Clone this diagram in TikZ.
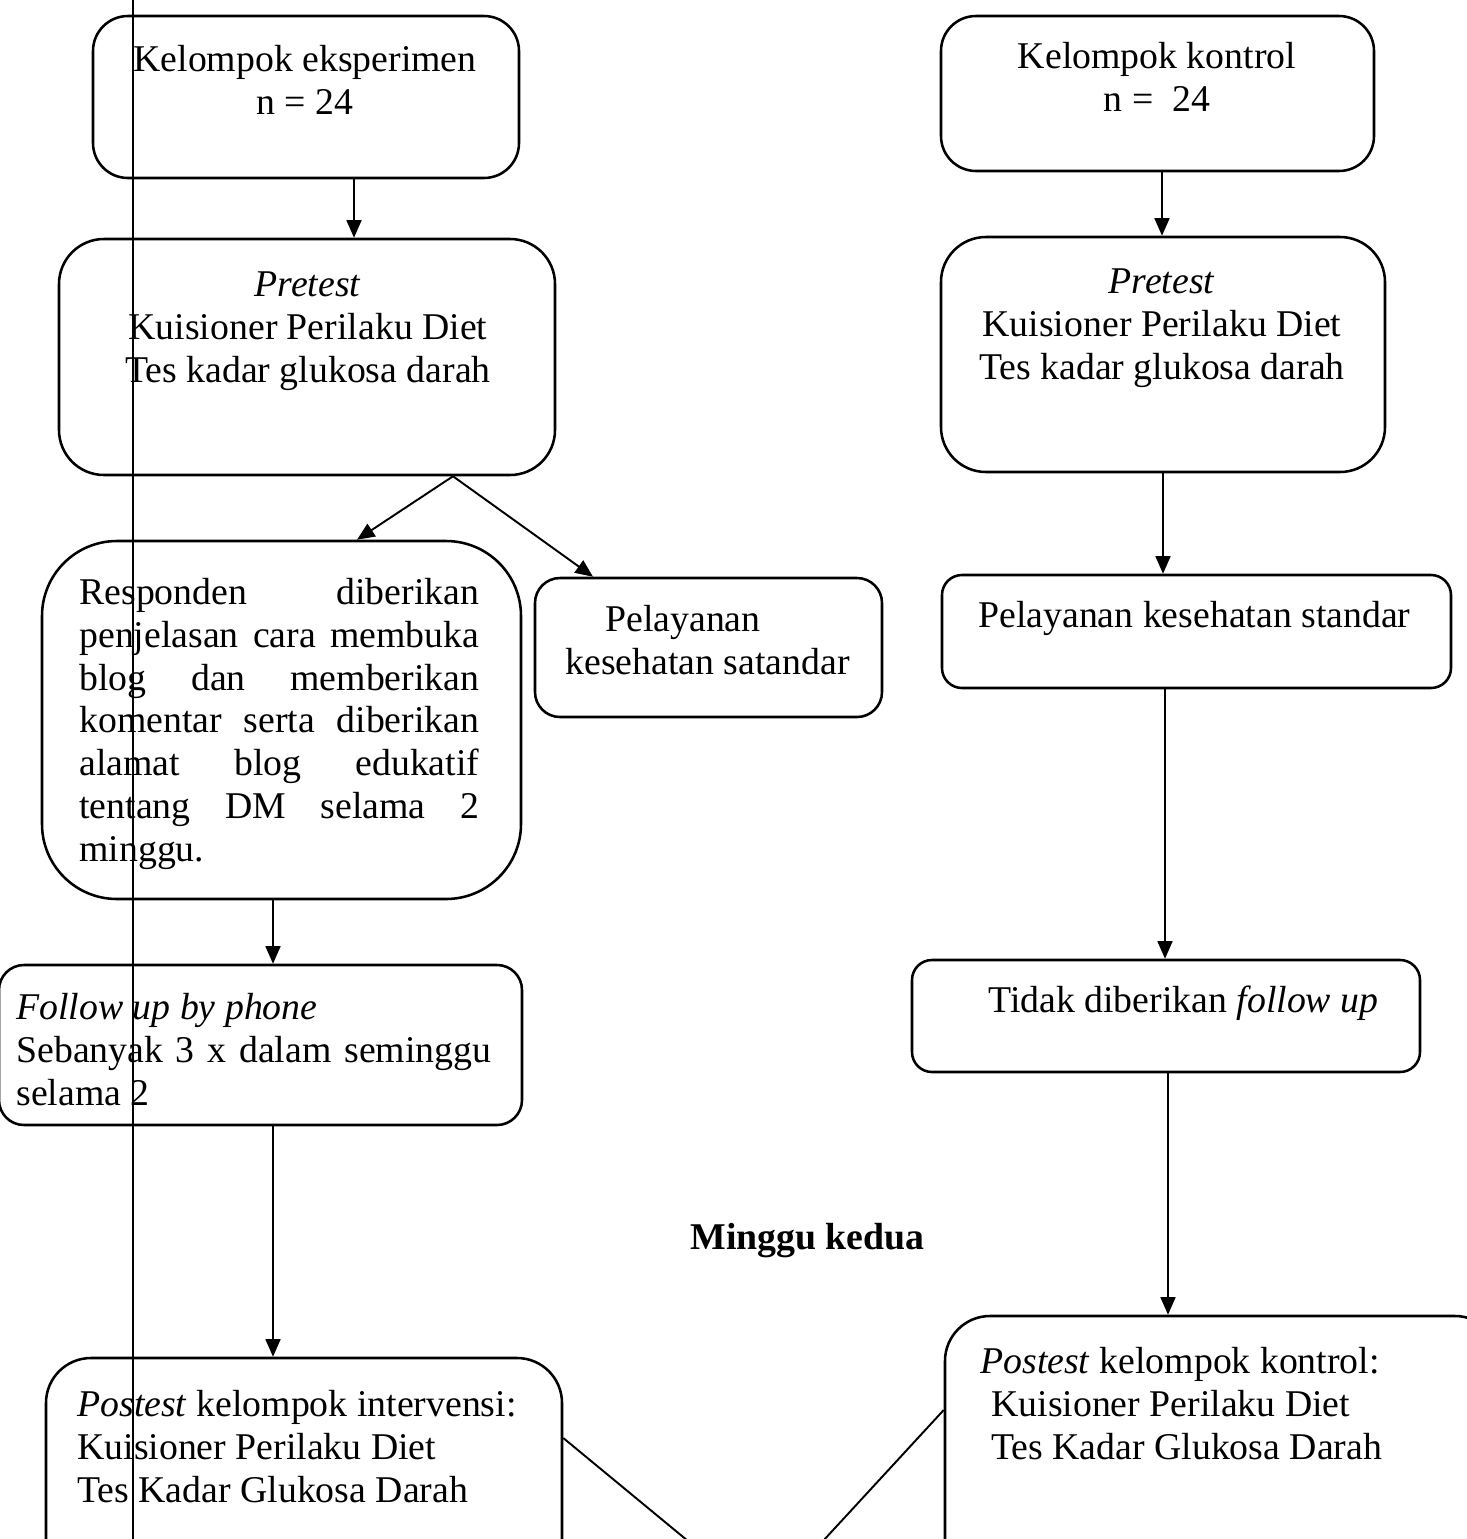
\documentclass[tikz,border=0pt]{standalone}
\usepackage{fontspec}
\setmainfont{Liberation Serif}
\usetikzlibrary{arrows.meta,fit,calc}
\newcommand\dfont{\fontsize{21.5}{24.4}\selectfont}
\newcommand\jline[2]{\makebox[#1][s]{#2}}
\begin{document}
\begin{tikzpicture}[x=0.02cm,y=-0.02cm,
  box/.style={draw, line width=1.45pt, inner sep=0pt},
  txt/.style={inner sep=0pt, font=\dfont, align=center, anchor=north},
  ltxt/.style={inner sep=0pt, font=\dfont, align=left, anchor=north west},
  arr/.style={-{Triangle[length=10pt,width=8.5pt]}, line width=1.1pt},
  link/.style={line width=1.1pt}]
\useasboundingbox (0,0) rectangle (1467,1539);
\clip (0,0) rectangle (1467,1539);

% thin vertical line
\draw[line width=0.6pt] (133,0) -- (133,1539);

% boxes
\node[box, rounded corners=0.7cm, fit={(93,16)(519,178)}] (b1) {};
\node[box, rounded corners=0.7cm, fit={(941,16)(1374,171)}] (b2) {};
\node[box, rounded corners=0.9cm, fit={(59,239)(555,475)}] (b3) {};
\node[box, rounded corners=0.9cm, fit={(941,237)(1385,472)}] (b4) {};
\node[box, rounded corners=1.5cm, fit={(42,541)(521,899)}] (b5) {};
\node[box, rounded corners=0.5cm, fit={(535,578)(882,717)}] (b6) {};
\node[box, rounded corners=0.4cm, fit={(942,575)(1451,688)}] (b7) {};
\node[box, rounded corners=0.5cm, fit={(-1,965)(522,1125)}] (b8) {};
\node[box, rounded corners=0.4cm, fit={(912,960)(1420,1072)}] (b9) {};
\node[box, rounded corners=0.9cm, fit={(46,1358)(562,1640)}] (b10) {};
\node[box, rounded corners=0.9cm, fit={(945,1316)(1500,1640)}] (b11) {};

% texts
\node[txt] (t1) at (305,41) {\strut Kelompok eksperimen\\n = 24};
\node[txt] (t2) at (1157,38) {\strut Kelompok kontrol\\n = \ 24};
\node[txt] (t3) at (308,266) {\strut\textit{Pretest}\\Kuisioner Perilaku Diet\\Tes kadar glukosa darah};
\node[txt] (t4) at (1162,263) {\strut\textit{Pretest}\\Kuisioner Perilaku Diet\\Tes kadar glukosa darah};
\node[ltxt] (t5) at (79,574) {\strut\jline{8cm}{Responden diberikan}\\
  \jline{8cm}{penjelasan cara membuka}\\
  \jline{8cm}{blog dan memberikan}\\
  \jline{8cm}{komentar serta diberikan}\\
  \jline{8cm}{alamat blog edukatif}\\
  \jline{8cm}{tentang DM selama 2}\\
  minggu.};
\node[ltxt] (t6) at (565,601) {\strut\hspace*{0.8cm}Pelayanan\\kesehatan satandar};
\node[ltxt] (t7) at (978,597) {\strut Pelayanan kesehatan standar};
\node[ltxt] (t8) at (16,989) {\strut\textit{Follow up by phone}\\
  \jline{9.5cm}{Sebanyak 3 x dalam seminggu}\\
  selama 2};
\node[ltxt] (t9) at (988,982) {\strut Tidak diberikan \textit{follow up}};
\node[ltxt] (t10) at (77,1386) {\strut\textit{Postest} kelompok intervensi:\\
  Kuisioner Perilaku Diet\\Tes Kadar Glukosa Darah};
\node[ltxt] (t11) at (980,1343) {\strut\textit{Postest} kelompok kontrol:\\
  \hspace*{0.22cm}Kuisioner Perilaku Diet\\\hspace*{0.22cm}Tes Kadar Glukosa Darah};
\node[ltxt] (t12) at (690,1219) {\strut\textbf{Minggu kedua}};

% connector x positions
\coordinate (x354) at (354,0);
\coordinate (x1162) at (1162,0);
\coordinate (x453) at (453,0);
\coordinate (x357) at (357,0);
\coordinate (x593) at (593,0);
\coordinate (x1163) at (1163,0);
\coordinate (x273) at (273,0);
\coordinate (x1165) at (1165,0);
\coordinate (x1168) at (1168,0);
\coordinate (y1438) at (0,1438);
\coordinate (y1410) at (0,1410);
\coordinate (e1) at (688,1541);
\coordinate (e2) at (823,1541);

% connectors
\draw[arr] (b1.south -| x354) -- (b3.north -| x354);
\draw[arr] (b2.south -| x1162) -- (b4.north -| x1162);
\draw[arr] (b3.south -| x453) -- (b5.north -| x357);
\draw[arr] (b3.south -| x453) -- (b6.north -| x593);
\draw[arr] (b4.south -| x1163) -- (b7.north -| x1163);
\draw[arr] (b5.south -| x273) -- (b8.north -| x273);
\draw[arr] (b7.south -| x1165) -- (b9.north -| x1165);
\draw[arr] (b8.south -| x273) -- (b10.north -| x273);
\draw[arr] (b9.south -| x1168) -- (b11.north -| x1168);
\draw[link] (b10.east |- y1438) -- (e1);
\draw[link] (b11.west |- y1410) -- (e2);
\end{tikzpicture}
\end{document}
